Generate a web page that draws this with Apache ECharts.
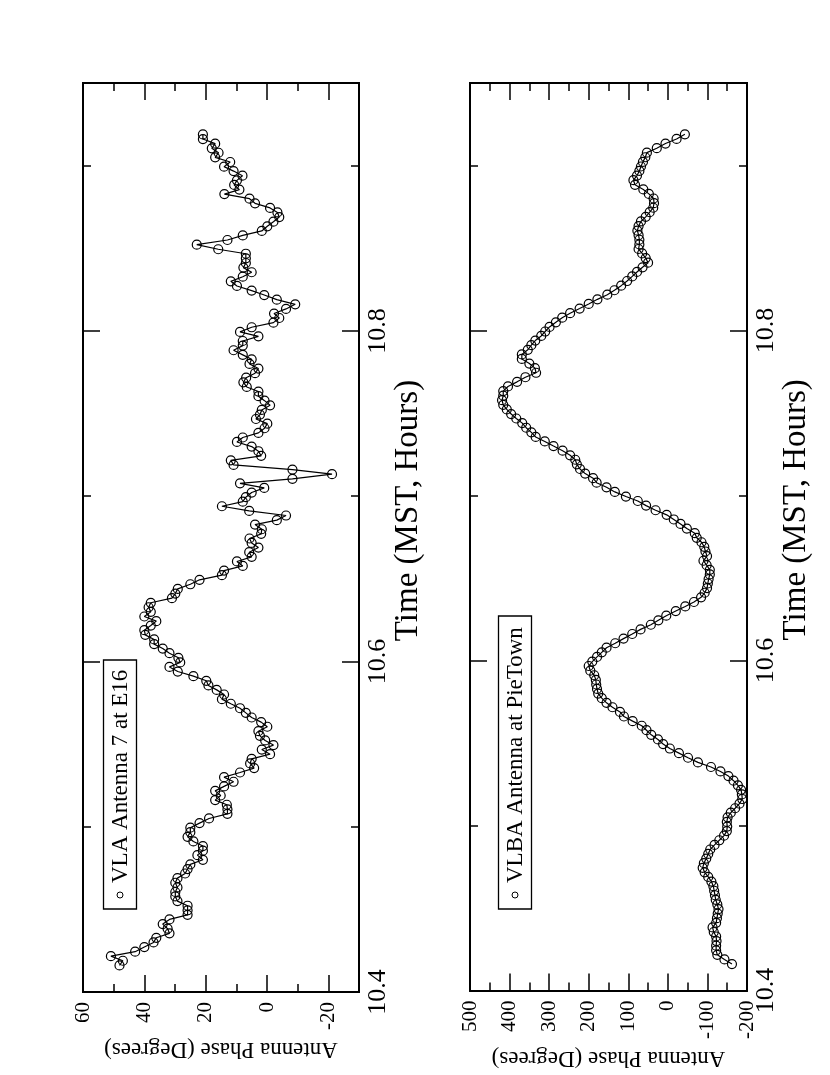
<!DOCTYPE html>
<html>
<head>
<meta charset="utf-8">
<script src="https://cdn.jsdelivr.net/npm/echarts@6/dist/echarts.min.js"></script>
<style>html,body{margin:0;padding:0;background:#fff}#c{width:830px;height:1075px}</style>
</head>
<body>
<div id="c"></div>
<script>
// Sample times (MST, hours), 10 s cadence, shared by both antennas
const timeHours = [
10.4161,10.4189,10.4217,10.4244,10.4272,10.4300,10.4328,10.4355,10.4383,10.4411,10.4439,10.4467,10.4494,10.4522,10.4550,10.4578,10.4605,10.4633,10.4661,10.4689,10.4717,10.4744,10.4772,10.4800,10.4828,10.4855,10.4883,10.4911,10.4939,10.4967,10.4994,10.5022,10.5050,10.5078,10.5105,10.5133,
10.5161,10.5189,10.5217,10.5244,10.5272,10.5300,10.5328,10.5355,10.5383,10.5411,10.5439,10.5467,10.5494,10.5522,10.5550,10.5578,10.5605,10.5633,10.5661,10.5689,10.5717,10.5744,10.5772,10.5800,10.5828,10.5855,10.5883,10.5911,10.5939,10.5967,10.5994,10.6022,10.6050,10.6078,10.6105,10.6133,
10.6161,10.6189,10.6217,10.6244,10.6272,10.6300,10.6328,10.6355,10.6383,10.6411,10.6439,10.6467,10.6494,10.6522,10.6550,10.6578,10.6605,10.6633,10.6661,10.6689,10.6717,10.6744,10.6772,10.6800,10.6828,10.6855,10.6883,10.6911,10.6939,10.6967,10.6994,10.7022,10.7050,10.7078,10.7105,10.7133,
10.7161,10.7189,10.7217,10.7244,10.7272,10.7300,10.7328,10.7355,10.7383,10.7411,10.7439,10.7467,10.7494,10.7522,10.7550,10.7578,10.7605,10.7633,10.7661,10.7689,10.7717,10.7744,10.7772,10.7800,10.7828,10.7855,10.7883,10.7911,10.7939,10.7967,10.7994,10.8022,10.8050,10.8078,10.8105,10.8133,
10.8161,10.8189,10.8217,10.8244,10.8272,10.8300,10.8328,10.8355,10.8383,10.8411,10.8439,10.8467,10.8494,10.8522,10.8550,10.8578,10.8605,10.8633,10.8661,10.8689,10.8717,10.8744,10.8772,10.8800,10.8828,10.8855,10.8883,10.8911,10.8939,10.8967,10.8994,10.9022,10.9050,10.9078,10.9105,10.9133,
10.9161,10.9189
];
// VLA Antenna 7 at E16 phase (degrees)
const vlaPhase = [
48.1,47.0,50.9,43.0,40.0,37.0,36.1,31.8,32.4,34.0,
31.8,25.9,25.9,25.9,29.2,29.9,29.9,29.2,29.9,29.2,
26.7,25.9,25.0,20.9,22.7,20.9,20.9,24.0,25.9,25.0,
25.0,22.0,18.9,12.9,12.9,13.1,16.9,15.1,16.9,14.0,
10.9,14.0,8.8,4.2,5.5,5.0,-1.0,1.7,-2.1,0.6,
2.3,2.8,-0.1,1.9,5.0,6.9,8.8,11.8,14.7,14.0,
16.4,19.1,
19.8,24.0,29.1,31.8,28.3,28.9,31.8,34.0,36.8,36.8,
39.7,40.0,37.9,36.1,40.0,37.9,38.6,37.9,31.0,29.9,
29.1,25.0,22.0,14.7,14.0,7.9,9.8,5.0,5.8,2.8,
5.0,5.7,1.9,1.7,3.9,-3.2,-6.2,5.8,14.7,7.9,
6.9,5.0,0.9,8.8,-8.3,-21.2,-8.3,10.9,11.8,1.9,
2.8,5.0,9.8,7.9,2.8,0.8,-0.1,3.6,2.3,1.7,
-1.0,0.8,2.8,2.8,
6.6,7.7,6.8,3.9,2.8,5.7,5.0,7.9,10.9,7.9,
7.9,2.8,8.8,5.0,-2.1,-4.0,-2.3,-6.2,-9.2,-3.2,
0.9,5.0,9.8,11.8,7.9,5.0,7.7,6.9,6.9,6.9,
15.9,22.9,12.9,7.9,1.7,-0.1,-2.1,-4.0,-3.4,-1.0,
3.9,5.7,13.9,9.0,10.7,9.8,8.0,10.9,14.0,12.0,
16.9,15.8,18.0,16.9,20.9,20.9
];
// VLBA Antenna at PieTown phase (degrees)
const vlbaPhase = [
-162,-143,-125,-122,-122,-123,-122,-116,-113,-122,
-124,-126,-128,-125,-121,-119,-117,-115,-110,-102,
-93,-88,-91,-97,-102,-107,-118,-130,-142,-149,
-150,-149,-151,-159,-170,-181,-188,-187,-185,-177,
-166,-153,-133,-109,-76,-51,-28,-5,12,25,
42,54,66,89,111,121,140,155,167,176,
179,181,182,186,196,200,191,179,167,155,
133,112,90,69,43,24,4,-20,-44,-66,
-84,-93,-99,-101,-103,-106,-106,-98,-90,-99,
-95,-92,-85,-73,-68,-48,-32,-15,3,31,
55,76,106,134,155,180,189,209,222,230,
234,247,266,289,311,334,345,358,368,383,
396,407,416,419,416,416,404,381,360,333,
336,350,369,369,354,345,335,320,310,299,
283,267,247,223,200,178,153,135,118,103,
90,78,64,50,56,65,74,72,72,74,
77,74,68,56,46,37,35,36,48,62,
83,87,78,72,68,63,57,53,28,6,
-22,-43
];
const timeMajor = [10.4, 10.6, 10.8];
const timeMinor = [10.5, 10.7, 10.9];
const timeRange = [10.4, 10.95];
const vlaMajor = [60, 40, 20, 0, -20];
const vlaMinor = [50, 30, 10, -10];
const vlaRange = [-30, 60];
const vlbaMajor = [500, 400, 300, 200, 100, 0, -100, -200];
const vlbaMinor = [450, 350, 250, 150, 50, -50, -150];
const vlbaRange = [-200, 500];
const seriesNames = ['VLA Antenna 7 at E16', 'VLBA Antenna at PieTown'];
const timeName = 'Time (MST, Hours)';
const phaseName = 'Antenna Phase (Degrees)';

const FONT = 'Liberation Serif';
const BLACK = '#000';

function tick(values, len) {
  return {show: true, inside: true, length: len, customValues: values, lineStyle: {color: BLACK, width: 1.5}};
}
function phaseAxes(grid, range, major, minor, nameGap) {
  const base = {type: 'value', gridIndex: grid, min: range[0], max: range[1], inverse: true,
    splitLine: {show: false}, axisLine: {show: true, onZero: false, lineStyle: {color: BLACK, width: 2}}};
  return [
    Object.assign({}, base, {position: 'bottom', axisTick: tick(major, 17),
      axisLabel: {show: true, customValues: major, rotate: 90, color: BLACK, fontFamily: FONT, fontSize: 21, margin: 10},
      name: phaseName, nameLocation: 'middle', nameRotate: 180, nameGap: nameGap,
      nameTextStyle: {color: BLACK, fontFamily: FONT, fontSize: 23}}),
    Object.assign({}, base, {position: 'bottom', axisTick: tick(minor, 8), axisLabel: {show: false}}),
    Object.assign({}, base, {position: 'top', axisTick: tick(major, 17), axisLabel: {show: false}}),
    Object.assign({}, base, {position: 'top', axisTick: tick(minor, 8), axisLabel: {show: false}})
  ];
}
function timeAxes(grid) {
  const base = {type: 'value', gridIndex: grid, min: timeRange[0], max: timeRange[1],
    splitLine: {show: false}, axisLine: {show: true, onZero: false, lineStyle: {color: BLACK, width: 2}}};
  return [
    Object.assign({}, base, {position: 'right', axisTick: tick(timeMajor, 17),
      axisLabel: {show: true, customValues: timeMajor, rotate: 90, color: BLACK, fontFamily: FONT, fontSize: 26, margin: 6,
        formatter: function (v) { return Number(v).toFixed(1); }},
      name: timeName, nameLocation: 'middle', nameRotate: 90, nameGap: 27,
      nameTextStyle: {color: BLACK, fontFamily: FONT, fontSize: 33, padding: [0, 0, 0, 54]}}),
    Object.assign({}, base, {position: 'right', axisTick: tick(timeMinor, 8), axisLabel: {show: false}}),
    Object.assign({}, base, {position: 'left', axisTick: tick(timeMajor, 17), axisLabel: {show: false}}),
    Object.assign({}, base, {position: 'left', axisTick: tick(timeMinor, 8), axisLabel: {show: false}})
  ];
}
function lineSeries(name, phases, axisIndex) {
  return {
    name: name, type: 'line', xAxisIndex: axisIndex, yAxisIndex: axisIndex,
    data: timeHours.map(function (t, i) { return [phases[i], t]; }),
    symbol: 'circle', symbolSize: 9, showSymbol: true,
    itemStyle: {color: 'rgba(0,0,0,0)', borderColor: BLACK, borderWidth: 1.2},
    lineStyle: {color: BLACK, width: 1.2},
    emphasis: {disabled: true}, silent: true, animation: false
  };
}
function legendBox(x, y, w, h, text) {
  const cx = x + w / 2;
  return [
    {type: 'rect', shape: {x: x, y: y, width: w, height: h}, style: {fill: '#fff', stroke: BLACK, lineWidth: 1.3}, silent: true},
    {type: 'circle', shape: {cx: cx, cy: y + h - 14, r: 3}, style: {fill: 'none', stroke: BLACK, lineWidth: 1}, silent: true},
    {type: 'text', x: cx + 1, y: y + h - 26, rotation: Math.PI / 2, silent: true,
      style: {text: text, fill: BLACK, font: '23px "' + FONT + '"', align: 'left', verticalAlign: 'middle'}}
  ];
}

const chart = echarts.init(document.getElementById('c'), null, {renderer: 'canvas'});
chart.setOption({
  backgroundColor: '#fff',
  animation: false,
  grid: [
    {left: 83, top: 83, width: 276, height: 909},
    {left: 470, top: 83, width: 277, height: 909}
  ],
  xAxis: phaseAxes(0, vlaRange, vlaMajor, vlaMinor, 40).concat(phaseAxes(1, vlbaRange, vlbaMajor, vlbaMinor, 56)),
  yAxis: timeAxes(0).concat(timeAxes(1)),
  series: [
    lineSeries(seriesNames[0], vlaPhase, 0),
    lineSeries(seriesNames[1], vlbaPhase, 4)
  ],
  graphic: legendBox(103.5, 660, 33, 249, seriesNames[0]).concat(legendBox(498.5, 616, 33, 293, seriesNames[1]))
});
</script>
</body>
</html>
